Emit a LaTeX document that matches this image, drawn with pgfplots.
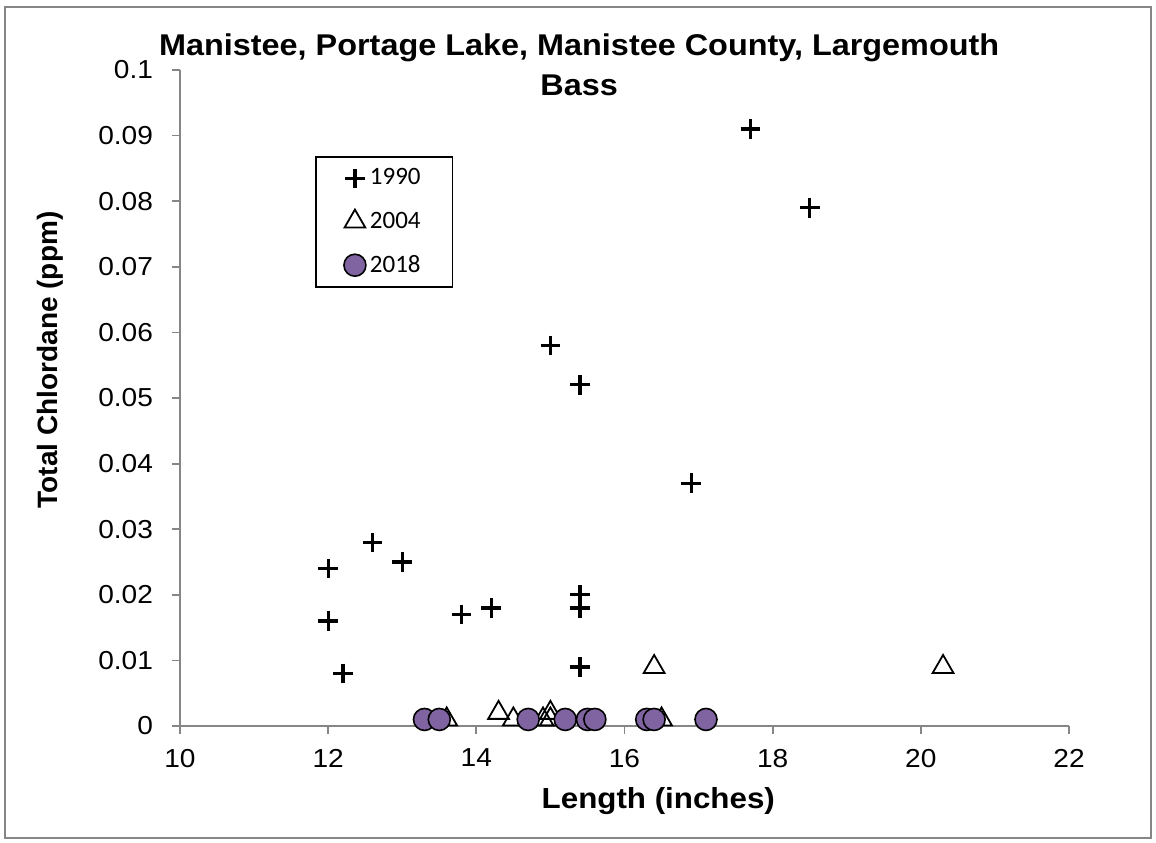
\documentclass[border=0pt]{standalone}
\usepackage{pgfplots}
\pgfplotsset{compat=1.18}
\usepackage{fontspec}
\setmainfont[FakeStretch=1.08]{Liberation Sans}
\newfontfamily\ylabfont{Liberation Sans}
\newfontfamily\legfont{Carlito}
\definecolor{excelpurple}{HTML}{8064A2}
\definecolor{axisgray}{HTML}{868686}
\begin{document}
\begin{tikzpicture}
\useasboundingbox (-90pt,-58pt) rectangle (488pt,363pt);
\draw[axisgray, line width=0.8pt] (-87.5pt,-56pt) rectangle (485.5pt,359.5pt);
\begin{axis}[
    at={(0pt,0pt)}, anchor=origin,
    scale only axis,
    width=444.5pt, height=328pt,
    xmin=10, xmax=22, ymin=0, ymax=0.1,
    xtick={10,12,...,22},
    ytick={0,0.01,...,0.1},
    axis lines*=left,
    axis line style={-, axisgray, line width=0.9pt},
    tick style={axisgray, line width=0.9pt},
    tick align=outside,
    major tick length=4pt,
    scaled y ticks=false,
    /pgf/number format/assume math mode=true,
    yticklabel style={/pgf/number format/fixed, /pgf/number format/precision=2, xshift=-6pt},
    xticklabel style={yshift=-4pt},
    tick label style={font=\fontsize{13}{15}\selectfont},
    title={Manistee, Portage Lake, Manistee County, Largemouth\\Bass},
    title style={at={(0.449,1.047)}, anchor=north, align=center, font=\bfseries\fontsize{15}{20}\selectfont},
    xlabel={Length (inches)},
    xlabel style={at={(0.538,-0.115)}, anchor=center, font=\bfseries\fontsize{14.5}{16}\selectfont},
    ylabel={Total Chlordane (ppm)},
    ylabel style={at={(-0.146,0.558)}, anchor=center, font=\ylabfont\bfseries\fontsize{14}{16}\selectfont},
    legend image code/.code={\draw[#1] plot coordinates {(0pt,0pt)};},
    legend style={at={(0.152,0.869)}, anchor=north west, draw=black, line width=0.8pt,
        font=\legfont\fontsize{12.5}{14}\selectfont, inner xsep=14pt, inner ysep=4pt,
        row sep=8pt, cells={anchor=west}},
]
\addplot[only marks, mark=+, mark size=4.9pt, line width=1.6pt, black] coordinates {
(12.0,0.024) (12.0,0.016) (12.2,0.008) (12.6,0.028) (13.0,0.025)
(13.8,0.017) (14.2,0.018) (15.0,0.058) (15.4,0.052) (15.4,0.020)
(15.4,0.018) (15.4,0.009) (16.9,0.037) (17.7,0.091) (18.5,0.079)};
\addlegendentry{1990}
\addplot[only marks, mark=triangle, mark size=6pt, line width=0.9pt, black, mark options={fill=none}] coordinates {
(13.6,0.001) (14.3,0.002) (14.5,0.001) (14.9,0.001) (15.0,0.001)
(15.0,0.002) (16.4,0.009) (16.5,0.001) (20.3,0.009)};
\addlegendentry{2004}
\addplot[only marks, mark=*, mark size=5.5pt, line width=0.8pt, draw=black, fill=excelpurple, mark options={fill=excelpurple}] coordinates {
(13.3,0.001) (13.5,0.001) (14.7,0.001) (15.2,0.001) (15.5,0.001)
(15.6,0.001) (16.3,0.001) (16.4,0.001) (17.1,0.001)};
\addlegendentry{2018}
\end{axis}
\end{tikzpicture}
\end{document}
